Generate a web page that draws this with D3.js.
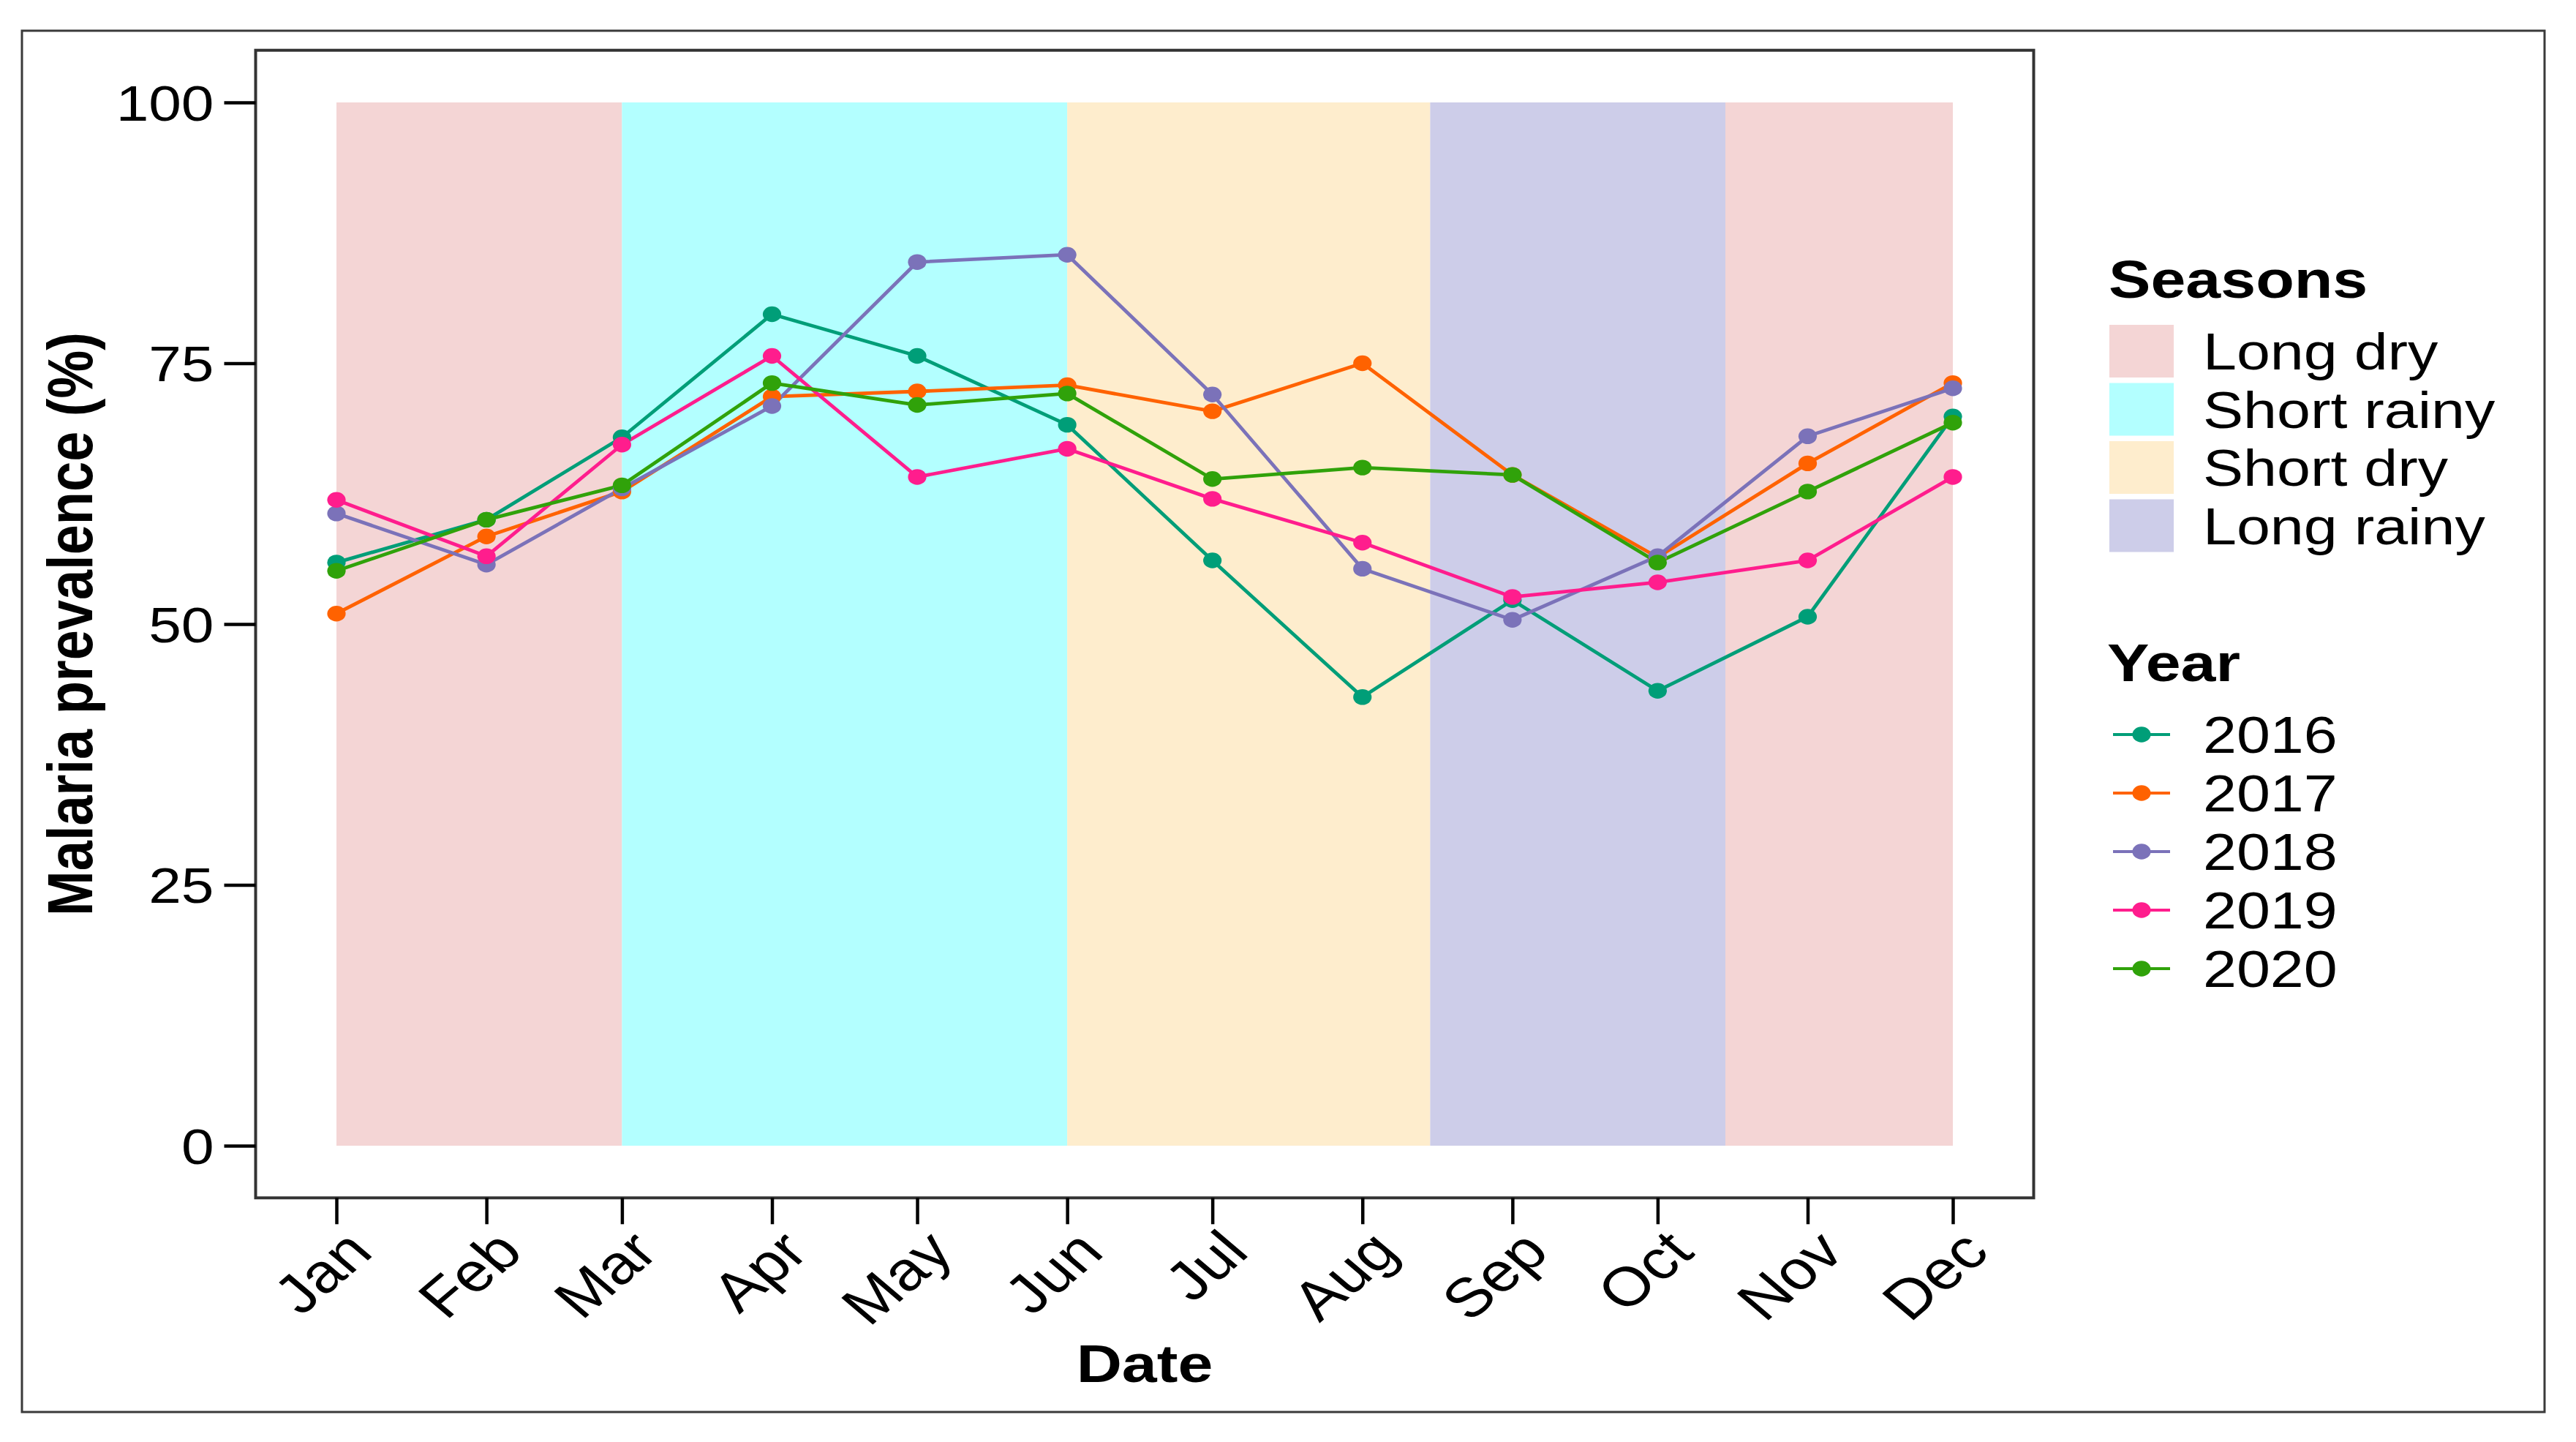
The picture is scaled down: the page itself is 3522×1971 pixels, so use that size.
<!DOCTYPE html>
<html>
<head>
<meta charset="utf-8">
<script src="https://cdn.jsdelivr.net/npm/d3@7"></script>
<style>
  html, body { margin: 0; padding: 0; background: #ffffff; }
  svg { display: block; }
  text { font-family: "Liberation Sans", Arial, Helvetica, sans-serif; fill: #000; }
</style>
</head>
<body>
<svg id="chart" width="3522" height="1971"></svg>
<script>
// ---------------- data ----------------
const months = ['Jan','Feb','Mar','Apr','May','Jun','Jul','Aug','Sep','Oct','Nov','Dec'];
const years = ['2016','2017','2018','2019','2020'];
const v2016 = [55.9, 60.0, 67.9, 79.7, 75.7, 69.1, 56.1, 43.0, 52.3, 43.6, 50.7, 69.9];
const v2017 = [51.0, 58.4, 62.7, 71.8, 72.3, 72.9, 70.4, 75.0, 64.3, 56.4, 65.4, 73.1];
const v2018 = [60.6, 55.7, 63.0, 70.9, 84.7, 85.4, 72.0, 55.3, 50.4, 56.5, 68.0, 72.6];
const v2019 = [61.9, 56.5, 67.2, 75.7, 64.1, 66.8, 62.0, 57.8, 52.6, 54.0, 56.1, 64.1];
const v2020 = [55.1, 60.0, 63.3, 73.1, 71.0, 72.1, 63.9, 65.0, 64.3, 55.9, 62.7, 69.3];
const seriesValues = [v2016, v2017, v2018, v2019, v2020];

const seasonNames = ['Long dry', 'Short rainy', 'Short dry', 'Long rainy'];
const bandSeason = ['Long dry', 'Short rainy', 'Short dry', 'Long rainy', 'Long dry'];
const bandStart  = ['2021-01-01', '2021-03-01', '2021-06-01', '2021-08-15', '2021-10-15'];
const bandEnd    = ['2021-03-01', '2021-06-01', '2021-08-15', '2021-10-15', '2021-12-01'];
const yTicks = [0, 25, 50, 75, 100];

// ---------------- styles ----------------
const seasonColors = ['#F4D5D5', '#B3FFFF', '#FEEDCD', '#CDCDE9'];
const yearColors = ['#009E78', '#FF6200', '#7B72B9', '#FF1D8D', '#30A20A'];
const S = 1.18; // horizontal stretch of the original figure

const parse = d3.timeParse('%Y-%m-%d');
const monthDates = months.map((m, i) => new Date(2021, i, 1));

const svg = d3.select('#chart');
svg.append('rect').attr('width', 3522).attr('height', 1971).attr('fill', '#fff');

// outer figure border
svg.append('rect').attr('x', 30).attr('y', 42).attr('width', 3449).attr('height', 1888)
  .attr('fill', 'none').attr('stroke', '#3a3a3a').attr('stroke-width', 3);

// scales
const x = d3.scaleTime().domain([monthDates[0], monthDates[11]]).range([460, 2670]);
const y = d3.scaleLinear().domain([0, 100]).range([1566, 140]);
const xs = x.range(), ys = y.range();
const padX = (xs[1] - xs[0]) * 0.05, padY = (ys[0] - ys[1]) * 0.05;
const pL = xs[0] - padX, pR = xs[1] + padX, pT = ys[1] - padY, pB = ys[0] + padY;

const sColor = d3.scaleOrdinal().domain(seasonNames).range(seasonColors);
const yColor = d3.scaleOrdinal().domain(years).range(yearColors);

// season bands
svg.append('g').selectAll('rect').data(bandSeason).join('rect')
  .attr('x', (d, i) => x(parse(bandStart[i])))
  .attr('width', (d, i) => x(parse(bandEnd[i])) - x(parse(bandStart[i])))
  .attr('y', y(100)).attr('height', y(0) - y(100))
  .attr('fill', d => sColor(d));

// lines
const line = d3.line().x((d, i) => x(monthDates[i])).y(d => y(d));
const gLines = svg.append('g');
seriesValues.forEach((vals, k) => {
  gLines.append('path').attr('d', line(vals)).attr('fill', 'none')
    .attr('stroke', yColor(years[k])).attr('stroke-width', 4.8).attr('stroke-linejoin', 'round');
});
const gPts = svg.append('g');
seriesValues.forEach((vals, k) => {
  gPts.selectAll(null).data(vals).join('ellipse')
    .attr('cx', (d, i) => x(monthDates[i])).attr('cy', d => y(d))
    .attr('rx', 12.6).attr('ry', 10.7).attr('fill', yColor(years[k]));
});

// panel border
svg.append('rect').attr('x', pL).attr('y', pT).attr('width', pR - pL).attr('height', pB - pT)
  .attr('fill', 'none').attr('stroke', '#333').attr('stroke-width', 4);

// y axis
const yAxis = svg.append('g').attr('transform', `translate(${pL},0)`)
  .call(d3.axisLeft(y).tickValues(yTicks).tickSize(43).tickPadding(0).tickFormat(d3.format('d')));
yAxis.select('.domain').remove();
yAxis.selectAll('.tick line').attr('stroke', '#000').attr('stroke-width', 4.5);
yAxis.selectAll('.tick text').attr('x', null).attr('dy', null)
  .attr('transform', `translate(-57,0) scale(${S},1)`)
  .attr('dy', '0.36em').attr('text-anchor', 'end')
  .style('font-size', '68px').style('font-family', '"Liberation Sans", Arial, sans-serif').attr('fill', '#000');

// x axis
const xAxis = svg.append('g').attr('transform', `translate(0,${pB})`)
  .call(d3.axisBottom(x).tickValues(monthDates).tickSize(36).tickFormat(d3.timeFormat('%b')));
xAxis.select('.domain').remove();
xAxis.selectAll('.tick line').attr('stroke', '#000').attr('stroke-width', 4.5);
xAxis.selectAll('.tick text').attr('y', null).attr('dy', null)
  .attr('transform', `translate(7,39) scale(${S},1) rotate(-45)`)
  .attr('dy', '0.72em').attr('text-anchor', 'end')
  .style('font-size', '75px').style('font-family', '"Liberation Sans", Arial, sans-serif').attr('fill', '#000');

// axis titles
svg.append('text').attr('transform', `translate(${(pL + pR) / 2},1889) scale(${S},1)`)
  .attr('text-anchor', 'middle').style('font-size', '73px').style('font-weight', 'bold').text('Date');
svg.append('text').attr('transform', `translate(126,${(pT + pB) / 2}) scale(${S},1) rotate(-90)`)
  .attr('text-anchor', 'middle').style('font-size', '74px').style('font-weight', 'bold')
  .text('Malaria prevalence (%)');

// legend: seasons
const lg = svg.append('g');
lg.append('text').attr('transform', `translate(2883,407) scale(${S},1)`)
  .style('font-size', '73px').style('font-weight', 'bold').text('Seasons');
seasonNames.forEach((s, i) => {
  const cy = 480 + i * 79.5;
  lg.append('rect').attr('x', 2884).attr('y', cy - 36).attr('width', 88).attr('height', 72)
    .attr('fill', sColor(s));
  lg.append('text').attr('transform', `translate(3012,${cy}) scale(${S},1)`)
    .attr('dy', '0.36em').style('font-size', '70px').text(s);
});
// legend: years
lg.append('text').attr('transform', `translate(2881,931) scale(${S},1)`)
  .style('font-size', '73px').style('font-weight', 'bold').text('Year');
years.forEach((yr, i) => {
  const cy = 1004 + i * 80;
  lg.append('line').attr('x1', 2889).attr('x2', 2967).attr('y1', cy).attr('y2', cy)
    .attr('stroke', yColor(yr)).attr('stroke-width', 4.2);
  lg.append('ellipse').attr('cx', 2928).attr('cy', cy).attr('rx', 12.6).attr('ry', 10.7)
    .attr('fill', yColor(yr));
  lg.append('text').attr('transform', `translate(3012,${cy}) scale(${S},1)`)
    .attr('dy', '0.36em').style('font-size', '70px').text(yr);
});
</script>
</body>
</html>
